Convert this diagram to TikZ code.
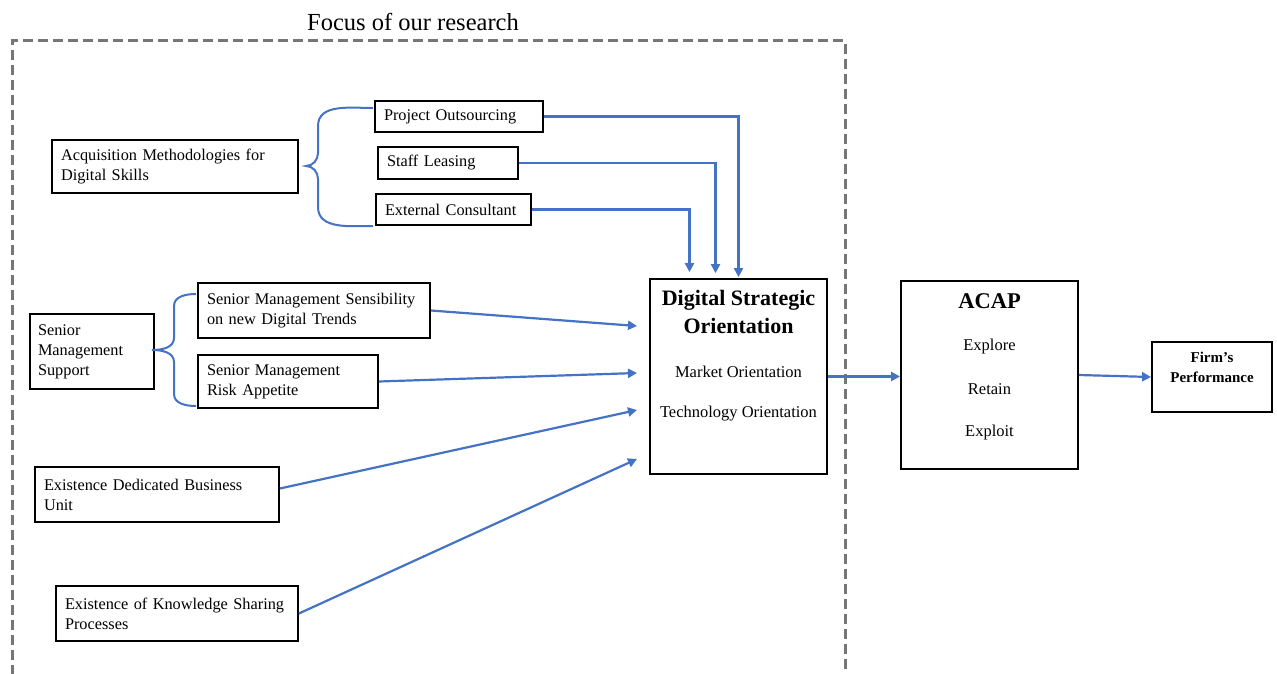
\documentclass[tikz,border=0pt]{standalone}
\usepackage{fontspec}
\setmainfont{Liberation Serif}
\usetikzlibrary{arrows.meta}
\definecolor{linkblue}{RGB}{68,114,196}
\definecolor{framegray}{RGB}{118,118,118}
\begin{document}
\begin{tikzpicture}[x=1pt,y=-1pt,
  box/.style={draw=black, line width=1.8pt, inner xsep=9pt, inner ysep=0pt,
              align=left, font=\fontsize{16.3}{20}\selectfont},
  flow/.style={draw=linkblue, line width=2.2pt,
               -{Triangle[length=9pt,width=9pt]}},
  brace/.style={draw=linkblue, line width=2pt},
  plain/.style={font=\fontsize{16.5}{20}\selectfont}]
\useasboundingbox (0,0) rectangle (1277,674);

% research frame
\node[font=\fontsize{24.5}{28}\selectfont] (focus) at (413,22) {Focus of our research};
\draw[framegray, line width=3pt, dash pattern=on 10pt off 5pt]
  (12,690) -- (12,41) -- (845,41) -- (845,690);

% acquisition methodologies
\node[box, text width=228pt, minimum height=53pt] (acq) at (175,166.5)
  {Acquisition Methodologies for\\Digital Skills};
\node[box, text width=150pt, minimum height=31pt] (po) at (459,116.5) {Project Outsourcing};
\node[box, text width=122pt, minimum height=32pt] (sl) at (448,163) {Staff Leasing};
\node[box, text width=137pt, minimum height=31pt] (ec) at (453.5,209.5) {External Consultant};

\draw[brace] (373,108) to[out=180,in=90] (318,126) -- (318,153)
  to[out=-90,in=0] (306,166) to[out=0,in=90] (318,179) -- (318,207)
  to[out=-90,in=180] (373,226);

% senior management
\node[box, inner xsep=8pt, text width=108pt, minimum height=75pt] (sms) at (92,351.5)
  {Senior\\Management\\Support};
\node[box, text width=214pt, minimum height=55pt] (sens) at (314,310.5)
  {Senior Management Sensibility\\on new Digital Trends};
\node[box, text width=162pt, minimum height=53pt] (risk) at (288,381.5)
  {Senior Management\\Risk Appetite};

\draw[brace] (196,294) to[out=180,in=90] (174,306) -- (174,338)
  to[out=-90,in=0] (152,350) to[out=0,in=90] (174,362) -- (174,394)
  to[out=-90,in=180] (196,406);

% other antecedents
\node[box, text width=226pt, minimum height=55pt] (dbu) at (157,494.5)
  {Existence Dedicated Business\\Unit};
\node[box, text width=224pt, minimum height=55pt] (ksp) at (177,613.5)
  {Existence of Knowledge Sharing\\Processes};

% digital strategic orientation
\node[draw=black, line width=1.8pt, minimum width=177pt, minimum height=195pt] (dso) at (738.5,376.5) {};
\node[font=\bfseries\fontsize{22}{28}\selectfont, align=center] (dsoT) at (738.5,312)
  {Digital Strategic\\Orientation};
\node[plain] (mo) at (738.5,372) {Market Orientation};
\node[plain] (to) at (738.5,414) {Technology Orientation};

% ACAP
\node[draw=black, line width=1.8pt, minimum width=177pt, minimum height=188pt] (acap) at (989.5,375) {};
\node[font=\bfseries\fontsize{22.5}{26}\selectfont] (acapT) at (989.5,301) {ACAP};
\node[plain] (expl) at (989.5,347) {Explore};
\node[plain] (ret) at (989.5,389) {Retain};
\node[plain] (exploit) at (989.5,433) {Exploit};

% performance
\node[draw=black, line width=1.8pt, minimum width=120pt, minimum height=70pt] (firm) at (1212,377) {};
\node[font=\bfseries\fontsize{15}{20}\selectfont, align=center] (firmT) at (1212,367)
  {Firm’s\\Performance};

% inputs to the orientation
\coordinate (in1) at (637,326);
\coordinate (in2) at (637,373);
\coordinate (in3) at (637,410);
\coordinate (in4) at (637,459);
\draw[flow] (sens.east) -- (in1);
\draw[flow] (risk.east) -- (in2);
\draw[flow] ([yshift=6pt]dbu.east) -- (in3);
\draw[flow] (ksp.east) -- (in4);

\draw[flow, shorten >=1pt] (po.east) -| (dso.north);
\draw[flow, shorten >=5pt] (sl.east) -| ([xshift=-23pt]dso.north);
\draw[flow, shorten >=6pt] (ec.east) -| ([xshift=-49pt]dso.north);

\draw[flow] (dso.east) -- (acap.west |- dso.east);
\draw[flow] (acap.east) -- (firm.west);
\end{tikzpicture}
\end{document}
